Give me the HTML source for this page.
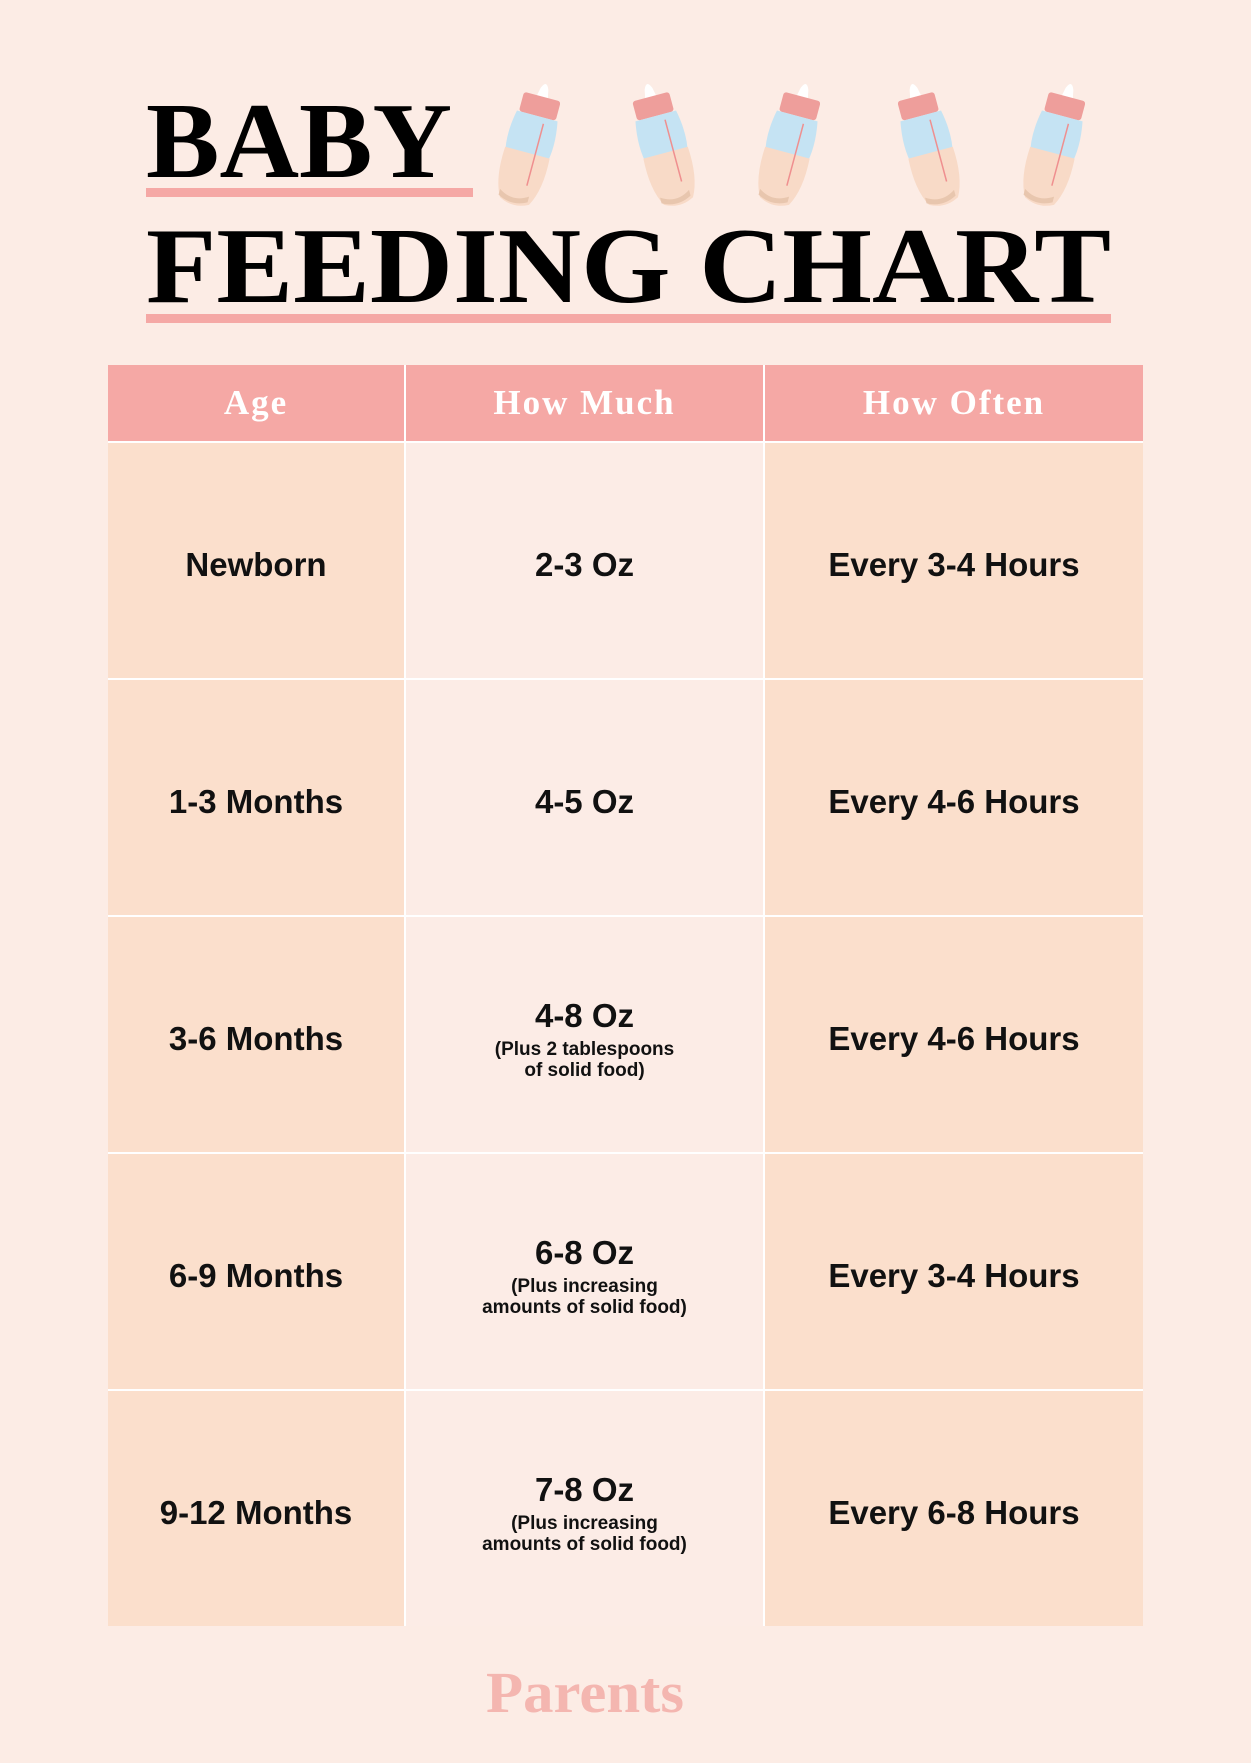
<!DOCTYPE html>
<html><head><meta charset="utf-8"><style>
body{margin:0;}
#p{position:relative;width:1251px;height:1763px;background:#fcece5;overflow:hidden;font-family:"Liberation Sans",sans-serif;}
.ul{position:absolute;background:#f5a8a5;}
table{position:absolute;left:108px;top:365px;width:1035px;border-collapse:collapse;border-style:hidden;}
td,th{border:2px solid #fff;text-align:center;padding:0;}
th{background:#f5a8a5;color:#fff;height:76px;font-family:"Liberation Serif",serif;font-weight:bold;font-size:35px;letter-spacing:2px;}
td{height:227px;font-weight:bold;font-size:33px;color:#111;padding-top:8px;}
.a{background:#fbdfcc;width:296px;}
.b{background:#fcece6;width:357px;}
.c{background:#fbdfcc;}
.s{font-size:19px;line-height:21px;display:block;margin-top:4px;}
</style></head><body><div id="p">
<svg width="1251" height="340" style="position:absolute;left:0;top:0">
<text x="146" y="177" font-family="Liberation Serif,serif" font-weight="bold" font-size="108" textLength="306" lengthAdjust="spacingAndGlyphs" fill="#000">BABY</text>
<text x="146" y="302" font-family="Liberation Serif,serif" font-weight="bold" font-size="108" textLength="965" lengthAdjust="spacingAndGlyphs" fill="#000">FEEDING CHART</text>
<defs><g id="bt">
<path d="M-4,-56 q4,-10 8,0 l2,10 h-12z" fill="#fff"/>
<rect x="-19" y="-48" width="38" height="20" rx="3" fill="#ee9e9b"/>
<path d="M-21,-28 h42 q6,30 -2,52 h-38 q-8,-22 -2,-52z" fill="#c5e3f3"/>
<path d="M-23,10 h46 q2,32 -8,50 q-15,8 -30,0 q-10,-18 -8,-50z" fill="#f8dac7"/>
<path d="M-17,52 q15,10 30,0 l0,6 q-15,8 -30,0z" fill="#e8c6ae"/>
<line x1="8" y1="-22" x2="8" y2="42" stroke="#ef8f8f" stroke-width="1.5"/>
</g></defs>
<use href="#bt" transform="translate(530,143) rotate(15)"/>
<use href="#bt" transform="translate(663,143) rotate(-15)"/>
<use href="#bt" transform="translate(790,143) rotate(15)"/>
<use href="#bt" transform="translate(928,143) rotate(-15)"/>
<use href="#bt" transform="translate(1055,143) rotate(15)"/>
</svg>
<div class="ul" style="left:146px;top:188px;width:327px;height:9px"></div>
<div class="ul" style="left:146px;top:314px;width:965px;height:9px"></div>
<table>
<tr><th class="a" style="background:#f5a8a5">Age</th><th class="b" style="background:#f5a8a5">How Much</th><th style="background:#f5a8a5">How Often</th></tr>
<tr><td class="a">Newborn</td><td class="b">2-3 Oz</td><td class="c">Every 3-4 Hours</td></tr>
<tr><td class="a">1-3 Months</td><td class="b">4-5 Oz</td><td class="c">Every 4-6 Hours</td></tr>
<tr><td class="a">3-6 Months</td><td class="b">4-8 Oz<span class="s">(Plus 2 tablespoons<br>of solid food)</span></td><td class="c">Every 4-6 Hours</td></tr>
<tr><td class="a">6-9 Months</td><td class="b">6-8 Oz<span class="s">(Plus increasing<br>amounts of solid food)</span></td><td class="c">Every 3-4 Hours</td></tr>
<tr><td class="a">9-12 Months</td><td class="b">7-8 Oz<span class="s">(Plus increasing<br>amounts of solid food)</span></td><td class="c">Every 6-8 Hours</td></tr>
</table>
<svg width="1251" height="100" style="position:absolute;left:0;top:1660px">
<text x="486" y="52" font-family="Liberation Serif,serif" font-weight="bold" font-size="58" textLength="198" lengthAdjust="spacingAndGlyphs" fill="#f4b6b0">Parents</text>
</svg>
</div></body></html>
